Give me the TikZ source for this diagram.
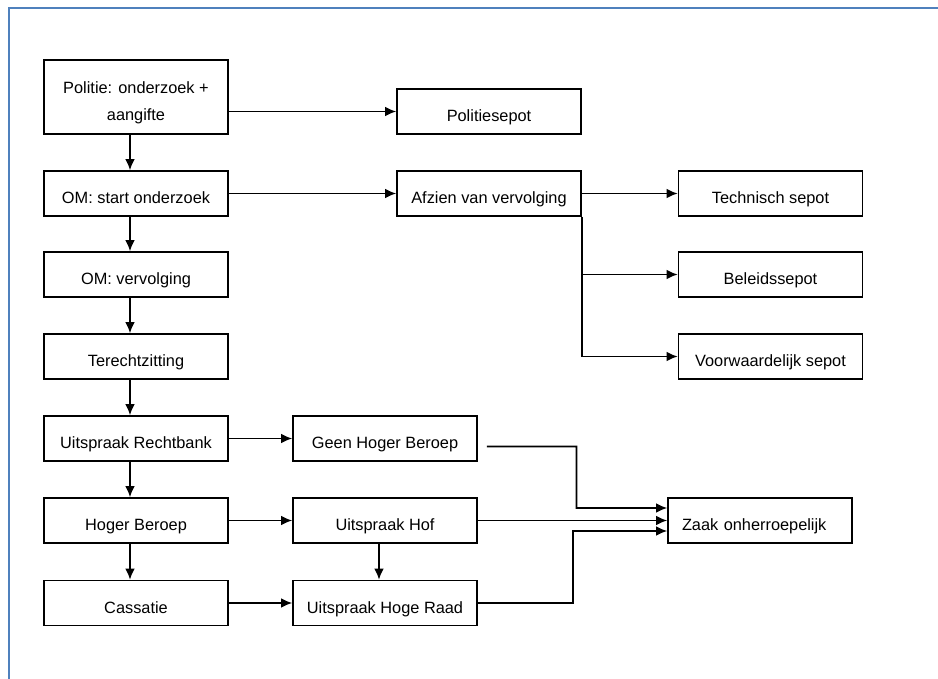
\documentclass[tikz,border=0pt]{standalone}
\usepackage{fontspec}
\setmainfont{Liberation Sans}
\usetikzlibrary{arrows.meta,calc}
\definecolor{framblue}{RGB}{79,129,189}
\begin{document}
\begin{tikzpicture}[
	box/.style={draw, line width=0.9pt, minimum width=3.68cm, minimum height=0.9cm, inner sep=0pt, align=center, text height=13pt, text depth=1.2pt, font=\fontsize{9.3}{15.9}\selectfont},
	pijl/.style={draw, line width=0.9pt, -{Latex[length=2.2mm,width=1.9mm]}},
	neer/.style={xshift=-0.12cm}
	]
	\useasboundingbox (0,0) rectangle (18.76,-13.58);
	\draw[framblue, line width=1.4pt] (0.18,-13.7) -- (0.18,-0.16) -- (18.9,-0.16);

	% linker kolom
	\node[box, minimum height=1.48cm, text height=28.5pt] (pol) at (2.72,-1.94) {Politie: onderzoek +\\aangifte};
	\node[box] (omstart) at (2.72,-3.87) {OM: start onderzoek};
	\node[box] (omverv) at (2.72,-5.49) {OM: vervolging};
	\node[box] (terecht) at (2.72,-7.13) {Terechtzitting};
	\node[box] (rechtbank) at (2.72,-8.77) {Uitspraak Rechtbank};
	\node[box] (hoger) at (2.72,-10.41) {Hoger Beroep};
	\node[box] (cass) at (2.72,-12.06) {Cassatie};

	% midden
	\node[box] (polsep) at (9.78,-2.23) {Politiesepot};
	\node[box] (afzien) at (9.78,-3.87) {Afzien van vervolging};
	\node[box] (geen) at (7.70,-8.77) {Geen Hoger Beroep};
	\node[box] (hof) at (7.70,-10.41) {Uitspraak Hof};
	\node[box] (hogeraad) at (7.70,-12.06) {Uitspraak Hoge Raad};

	% rechts
	\node[box] (tech) at (15.41,-3.87) {Technisch sepot};
	\node[box] (beleid) at (15.41,-5.49) {Beleidssepot};
	\node[box] (voorw) at (15.41,-7.13) {Voorwaardelijk sepot};
	\node[box, text width=3.12cm, align=left] (zaak) at (15.20,-10.41) {Zaak onherroepelijk};

	\draw[pijl] (pol.east |- polsep.west) -- (polsep.west);
	\draw[pijl] ([neer]pol.south) -- ([neer]omstart.north);
	\draw[pijl] (omstart) -- (afzien);
	\draw[pijl] (afzien) -- (tech);
	\draw[pijl] (afzien.south east) |- (beleid.west);
	\draw[pijl] (afzien.south east) |- (voorw.west);
	\draw[pijl] ([neer]omstart.south) -- ([neer]omverv.north);
	\draw[pijl] ([neer]omverv.south) -- ([neer]terecht.north);
	\draw[pijl] ([neer]terecht.south) -- ([neer]rechtbank.north);
	\draw[pijl] ([neer]rechtbank.south) -- ([neer]hoger.north);
	\draw[pijl] ([neer]hoger.south) -- ([neer]cass.north);
	\draw[pijl] (rechtbank) -- (geen);
	\draw[pijl] (hoger) -- (hof);
	\draw[pijl] (cass) -- (hogeraad);
	\draw[pijl] ([neer]hof.south) -- ([neer]hogeraad.north);
	\draw[pijl] ($(geen.east)+(0.18,-0.16)$) -| (11.53,-10.16) -- ($(zaak.west)+(0,0.25)$);
	\draw[pijl] (hof) -- (zaak);
	\draw[pijl] (hogeraad.east) -| (11.46,-10.62) -- ($(zaak.west)+(0,-0.21)$);
\end{tikzpicture}
\end{document}
